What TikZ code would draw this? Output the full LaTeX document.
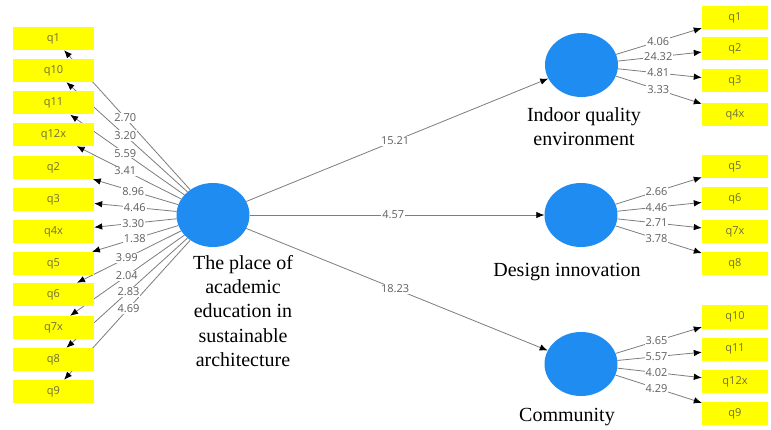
\documentclass[tikz,border=0pt]{standalone}
\usepackage{fontspec}
\setmainfont{Liberation Serif}
\newfontfamily\capfont{Liberation Serif}
\newfontfamily\lblfont{Open Sans}
\usetikzlibrary{arrows.meta,calc,shapes.geometric}
\pgfdeclarelayer{bg}
\pgfsetlayers{bg,main}
\definecolor{circblue}{RGB}{30,140,240}
\definecolor{boxyellow}{RGB}{255,255,0}
\definecolor{boxtext}{RGB}{110,110,60}
\definecolor{linegray}{RGB}{125,125,125}
\definecolor{lbltext}{RGB}{95,95,95}
\begin{document}
\begin{tikzpicture}[x=1pt,y=-1pt,
  lat/.style={ellipse, fill=circblue, minimum width=73pt, minimum height=64pt, inner sep=0pt},
  lbox/.style={fill=boxyellow, minimum width=81pt, minimum height=23pt, inner sep=0pt,
    font=\lblfont\fontsize{11}{13}\selectfont, text=boxtext},
  rbox/.style={lbox, minimum width=66pt},
  conn/.style={draw=linegray, line width=0.8pt, -{Latex[length=8pt,width=6.5pt,color=black]}},
  elbl/.style={fill=white, inner sep=1pt, font=\lblfont\fontsize{11}{12}\selectfont, text=lbltext},
  capt/.style={font=\capfont\fontsize{20}{24.3}\selectfont, align=center, inner sep=0pt}]
\useasboundingbox (0,0) rectangle (771,430);
\begin{pgfonlayer}{bg}
\fill[white] (0,0) rectangle (771,430);
\end{pgfonlayer}
% latent variables
\node[lat] (main) at (213,215) {};
\node[lat] (iq) at (581.5,65) {};
\node[lat] (di) at (581,215) {};
\node[lat] (cm) at (581,364) {};
% captions
\node[capt] (maintxt) at (243,311) {The place of\\academic\\education in\\sustainable\\architecture};
\node[capt] (iqtxt) at (584,127) {Indoor quality\\environment};
\node[capt] (ditxt) at (567,272) {Design innovation};
\node[capt] (cmtxt) at (567,417) {Community};
% left indicators
\foreach \n/\y in {q1/38.5,q10/70.5,q11/103,q12x/134.5,q2/167.5,q3/199.5,q4x/231.5,q5/263.5,q6/294.5,q7x/327.5,q8/359.5,q9/391.5}
  \node[lbox] (L\n) at (53.5,\y) {\n};
% right indicators
\foreach \n/\y in {q1/18,q2/48.5,q3/81,q4x/114.5}
  \node[rbox] (A\n) at (735,\y) {\n};
\foreach \n/\y in {q5/167,q6/199,q7x/231.5,q8/263.5}
  \node[rbox] (B\n) at (735,\y) {\n};
\foreach \n/\y in {q10/317,q11/349,q12x/381.5,q9/413.5}
  \node[rbox] (C\n) at (735,\y) {\n};
% connectors
\begin{pgfonlayer}{bg}
\foreach \n in {q1,q10,q11,q12x,q2,q3,q4x,q5,q6,q7x,q8,q9}
  \draw[conn] (main) -- (L\n);
\foreach \n in {q1,q2,q3,q4x}
  \draw[conn] (iq) -- (A\n);
\foreach \n in {q5,q6,q7x,q8}
  \draw[conn] (di) -- (B\n);
\foreach \n in {q10,q11,q12x,q9}
  \draw[conn] (cm) -- (C\n);
\draw[conn] (main) -- (iq);
\draw[conn] (main) -- (di);
\draw[conn] (main) -- (cm);
\end{pgfonlayer}
% labels
\foreach \n/\p/\v in {q1/0.55/2.70,q10/0.55/3.20,q11/0.55/5.59,q12x/0.55/3.41,q2/0.50/8.96,q3/0.49/4.46,q4x/0.50/3.30,q5/0.49/1.38,q6/0.54/3.99,q7x/0.54/2.04,q8/0.53/2.83,q9/0.53/4.69}
  \node[elbl] at ($(main)!\p!(L\n)$) {\v};
\foreach \n/\v in {q1/4.06,q2/24.32,q3/4.81,q4x/3.33}
  \node[elbl] at ($(iq)!0.5!(A\n)$) {\v};
\foreach \n/\v in {q5/2.66,q6/4.46,q7x/2.71,q8/3.78}
  \node[elbl] at ($(di)!0.49!(B\n)$) {\v};
\foreach \n/\v in {q10/3.65,q11/5.57,q12x/4.02,q9/4.29}
  \node[elbl] at ($(cm)!0.49!(C\n)$) {\v};
\node[elbl] at ($(main)!0.494!(iq)$) {15.21};
\node[elbl] at ($(main)!0.49!(di)$) {4.57};
\node[elbl] at ($(main)!0.495!(cm)$) {18.23};
\end{tikzpicture}
\end{document}
